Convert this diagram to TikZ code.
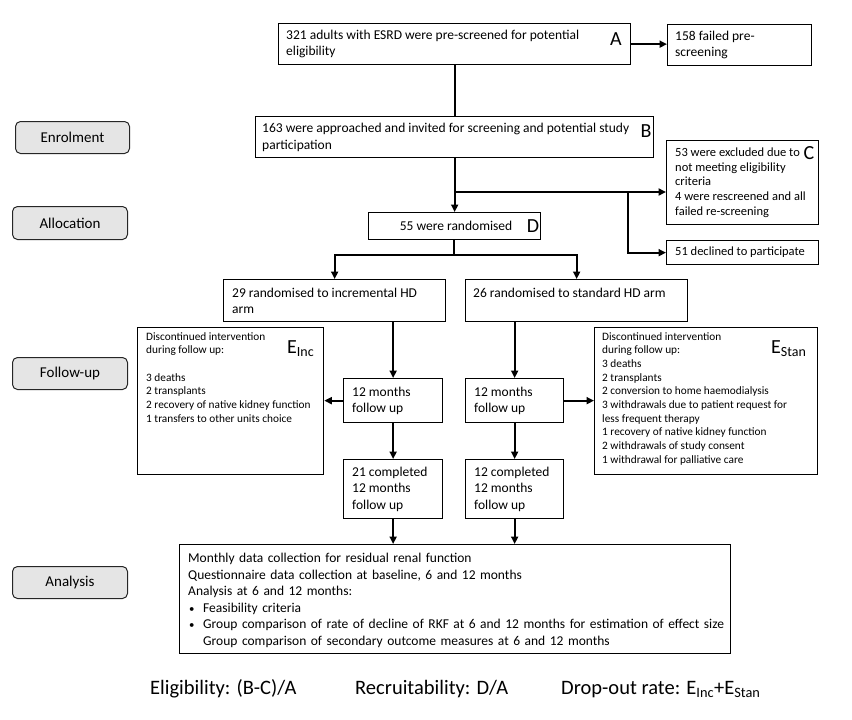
\documentclass[tikz,border=0pt]{standalone}
\usepackage{fontspec}
\setmainfont{Carlito}
\usetikzlibrary{arrows.meta}
\begin{document}
\begin{tikzpicture}[x=1pt,y=-1pt,
 box/.style={draw, line width=1.3pt, inner sep=0pt, anchor=north west},
 lab/.style={draw=black!85, line width=1pt, rounded corners=5pt, fill=black!10, anchor=north west, inner sep=0pt, font=\fontsize{15}{18}\selectfont},
 tm/.style={inner sep=0pt, align=left, anchor=west, font=\fontsize{13.5}{16.5}\selectfont},
 tc/.style={inner sep=0pt, align=left, anchor=west, font=\fontsize{12.5}{14.8}\selectfont},
 te/.style={inner sep=0pt, align=left, anchor=north west, font=\fontsize{11.3}{13.7}\selectfont},
 letter/.style={inner sep=0pt, font=\fontsize{20}{20}\selectfont},
 ln/.style={line width=2.2pt},
 arr/.style={line width=2.2pt, -{Triangle[length=7.5pt,width=7pt]}},
 foot/.style={inner sep=0pt, anchor=base west, font=\fontsize{20.5}{24}\selectfont}]
\useasboundingbox (0,0) rectangle (852,720);

% stage labels
\node[lab, minimum width=114pt, minimum height=32pt] (enr) at (15,121) {Enrolment};
\node[lab, minimum width=115pt, minimum height=33pt] (alloc) at (12,206) {Allocation};
\node[lab, minimum width=115pt, minimum height=32pt] (fu) at (12,357) {Follow-up};
\node[lab, minimum width=115pt, minimum height=32pt] (ana) at (12,566) {Analysis};

% boxes
\node[box, minimum width=352pt, minimum height=41pt] (A) at (278,23) {};
\node[tm] (At) at ([xshift=8pt]A.west) {321 adults with ESRD were pre-screened for potential\\eligibility};
\node[letter] (La) at (616,39) {A};

\node[box, minimum width=144pt, minimum height=41pt] (F158) at (667,24) {};
\node[tm] (F158t) at ([xshift=8pt]F158.west) {158 failed pre-\\screening};

\node[box, minimum width=398pt, minimum height=41pt] (B) at (255,116) {};
\node[tm] (Bt) at ([xshift=7pt]B.west) {163 were approached and invited for screening and potential study\\participation};
\node[letter] (Lb) at (646,131) {B};

\node[box, minimum width=152pt, minimum height=84pt] (C) at (666,140) {};
\node[tc] (Ct) at ([xshift=9pt]C.west) {53 were excluded due to\\not meeting eligibility\\criteria\\4 were rescreened and all\\failed re-screening};
\node[letter] (Lc) at (809,153) {C};

\node[box, minimum width=152pt, minimum height=24pt] (F51) at (666,240) {};
\node[tc] (F51t) at ([xshift=9pt]F51.west) {51 declined to participate};

\node[box, minimum width=172pt, minimum height=27pt] (D) at (368,212) {};
\node[tm, anchor=center] (Dt) at (456,225.5) {55 were randomised};
\node[letter] (Ld) at (533,226) {D};

\node[box, minimum width=222pt, minimum height=42pt] (Ainc) at (223,279) {};
\node[tm] (Ainct) at ([xshift=9pt]Ainc.west) {29 randomised to incremental HD\\arm};
\node[box, minimum width=222pt, minimum height=42pt] (Astd) at (465,279) {};
\node[tm] (Astdt) at ([xshift=8pt]Astd.west) {26 randomised to standard HD arm\\\mbox{}};

\node[box, minimum width=186pt, minimum height=147pt] (Einc) at (137,327) {};
\node[te] (Einct) at (146,332) {Discontinued intervention\\during follow up:\\\mbox{}\\3 deaths\\2 transplants\\2 recovery of native kidney function\\1 transfers to other units choice};
\node[letter, anchor=base west] (Le1) at (287,353) {E\textsubscript{Inc}};

\node[box, minimum width=223pt, minimum height=147pt] (Estan) at (594,327) {};
\node[te] (Estant) at (602,332) {Discontinued intervention\\during follow up:\\3 deaths\\2 transplants\\2 conversion to home haemodialysis\\3 withdrawals due to patient request for\\less frequent therapy\\1 recovery of native kidney function\\2 withdrawals of study consent\\1 withdrawal for palliative care};
\node[letter, anchor=base west] (Le2) at (771,353) {E\textsubscript{Stan}};

\node[box, minimum width=99pt, minimum height=44pt] (M1) at (343,378) {};
\node[tm] (M1t) at ([xshift=9pt]M1.west) {12 months\\follow up};
\node[box, minimum width=98pt, minimum height=44pt] (M2) at (465,378) {};
\node[tm] (M2t) at ([xshift=9pt]M2.west) {12 months\\follow up};

\node[box, minimum width=99pt, minimum height=59pt] (C1) at (343,459) {};
\node[tm] (C1t) at ([xshift=9pt]C1.west) {21 completed\\12 months\\follow up};
\node[box, minimum width=98pt, minimum height=59pt] (C2) at (465,459) {};
\node[tm] (C2t) at ([xshift=9pt]C2.west) {12 completed\\12 months\\follow up};

\node[box, minimum width=551pt, minimum height=109pt] (An) at (179,544) {};
\node[tm, text width=540pt] (Ant) at ([xshift=9pt,yshift=-1pt]An.west) {Monthly data collection for residual renal function\\
Questionnaire data collection at baseline, 6 and 12 months\\
Analysis at 6 and 12 months:\\
\makebox[15pt][l]{\hspace{1pt}\scalebox{0.8}{\textbullet}}Feasibility criteria\\
\makebox[15pt][l]{\hspace{1pt}\scalebox{0.8}{\textbullet}}Group comparison of rate of decline of RKF at 6 and 12 months for estimation of effect size\\
\makebox[15pt][l]{}Group comparison of secondary outcome measures at 6 and 12 months};

% footer
\node[foot] (f1) at (150,694) {Eligibility: (B-C)/A};
\node[foot] (f2) at (355,694) {Recruitability: D/A};
\node[foot] (f3) at (561,694) {Drop-out rate: E\textsubscript{Inc}+E\textsubscript{Stan}};

% connectors
\coordinate (j1) at (454,192);
\coordinate (j2) at (628,192);
\coordinate (j3) at (454,255);
\draw[arr] (A.east) -- (A.east -| F158.west);
\draw[ln] (A.south) -- (B.north);
\draw[arr] (B.south) -- (B.south |- D.north);
\draw[arr] (j1) -- (j1 -| C.west);
\draw[arr] (j2) |- (F51.west);
\draw[ln] (D.south -| j3) -- (j3);
\draw[arr] (j3) -| (Ainc.north);
\draw[arr] (j3) -| (Astd.north);
\draw[arr] (M1.north |- Ainc.south) -- (M1.north);
\draw[arr] (M2.north |- Astd.south) -- (M2.north);
\draw[arr] (M1.west) -- (M1.west -| Einc.east);
\draw[arr] (M2.east) -- (M2.east -| Estan.west);
\draw[arr] (M1.south) -- (C1.north);
\draw[arr] (M2.south) -- (C2.north);
\draw[arr] (C1.south) -- (C1.south |- An.north);
\draw[arr] (C2.south) -- (C2.south |- An.north);
\end{tikzpicture}
\end{document}
